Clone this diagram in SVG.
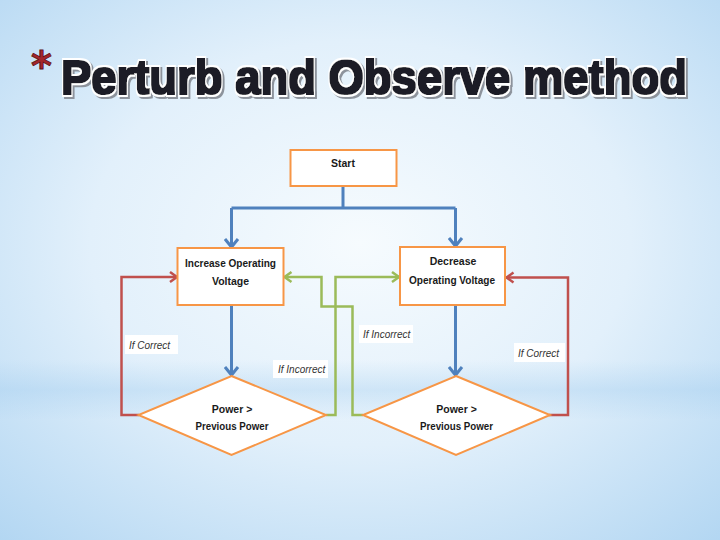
<svg xmlns="http://www.w3.org/2000/svg" width="720" height="540" viewBox="0 0 720 540">
<defs>
<radialGradient id="bg" cx="0.5" cy="0.45" r="0.75">
<stop offset="0" stop-color="#f6fbfe"/>
<stop offset="0.5" stop-color="#e2f0fb"/>
<stop offset="1" stop-color="#b2d6f2"/>
</radialGradient>
<linearGradient id="band" x1="0" y1="0" x2="0" y2="1">
<stop offset="0" stop-color="#9fcbee" stop-opacity="0"/>
<stop offset="0.5" stop-color="#9fcbee" stop-opacity="0.35"/>
<stop offset="1" stop-color="#9fcbee" stop-opacity="0"/>
</linearGradient>
<filter id="heavy" x="-5%" y="-30%" width="110%" height="160%">
<feMorphology in="SourceAlpha" operator="dilate" radius="1.1" result="bold"/>
<feFlood flood-color="#1e1e28" result="f1"/>
<feComposite in="f1" in2="bold" operator="in" result="boldC"/>
<feMorphology in="SourceAlpha" operator="dilate" radius="2.2" result="outline"/>
<feFlood flood-color="#ffffff" result="f2"/>
<feComposite in="f2" in2="outline" operator="in" result="outlineC"/>
<feOffset in="outline" dx="2.2" dy="2" result="sh"/>
<feFlood flood-color="#8d939c" result="f3"/>
<feComposite in="f3" in2="sh" operator="in" result="shC"/>
<feMerge><feMergeNode in="shC"/><feMergeNode in="outlineC"/><feMergeNode in="boldC"/></feMerge>
</filter>
<marker id="aB" markerUnits="userSpaceOnUse" markerWidth="16" markerHeight="16" refX="10" refY="8" orient="auto">
<path d="M2,1.5 L10,8 L2,14.5" fill="none" stroke="#4f81bd" stroke-width="3"/>
</marker>
<marker id="aR" markerUnits="userSpaceOnUse" markerWidth="14" markerHeight="14" refX="9" refY="7" orient="auto">
<path d="M2,2 L9,7 L2,12" fill="none" stroke="#c0504d" stroke-width="2.5"/>
</marker>
<marker id="aG" markerUnits="userSpaceOnUse" markerWidth="14" markerHeight="14" refX="9" refY="7" orient="auto">
<path d="M2,2 L9,7 L2,12" fill="none" stroke="#9bbb59" stroke-width="2.5"/>
</marker>
</defs>
<style>
.box{fill:#fff;stroke:#f79646;stroke-width:2}
.t{font-family:"Liberation Sans",Arial,sans-serif;font-weight:bold;font-size:10.5px;fill:#1a1a1a;text-anchor:middle}
.lbl{font-family:"Liberation Sans",Arial,sans-serif;font-style:italic;font-size:10px;fill:#333}
.lb{fill:#fff}
.blue{fill:none;stroke:#4f81bd;stroke-width:3}
.red{fill:none;stroke:#c0504d;stroke-width:2.5}
.green{fill:none;stroke:#9bbb59;stroke-width:2.5}
.title{font-family:"Liberation Sans",Arial,sans-serif;font-weight:bold;font-size:40px;fill:#1e1e28}
</style>
<rect width="720" height="540" fill="url(#bg)"/>
<rect x="0" y="360" width="720" height="60" fill="url(#band)"/>

<g id="title">
<text x="31" y="80" font-family="DejaVu Sans,sans-serif" font-weight="bold" font-size="40" fill="#a3262a" stroke="#5a1010" stroke-width="0.8">*</text>
<g transform="translate(61,94) scale(1,1.2)">
<text class="title" x="0" y="0" textLength="626" lengthAdjust="spacingAndGlyphs" filter="url(#heavy)">Perturb and Observe method</text>
</g>
</g>

<g id="connectors">
<path class="blue" d="M343,186 V208 M231.5,208 H455.5"/>
<path class="blue" d="M231.5,208 V247" marker-end="url(#aB)"/>
<path class="blue" d="M455.5,208 V246" marker-end="url(#aB)"/>
<path class="blue" d="M231.5,305 V375" marker-end="url(#aB)"/>
<path class="blue" d="M455.5,305 V375" marker-end="url(#aB)"/>
<path class="red" d="M139,415 H121.5 V277 H177" marker-end="url(#aR)"/>
<path class="red" d="M549,415 H568 V277.5 H506.5" marker-end="url(#aR)"/>
<path class="green" d="M326,415 H335.5 V277 H399" marker-end="url(#aG)"/>
<path class="green" d="M363,415 H352.5 V306.5 H321.5 V277 H284.5" marker-end="url(#aG)"/>
</g>

<g id="start">
<rect class="box" x="290.5" y="150" width="106" height="36"/>
<text class="t" x="343" y="167">Start</text>
</g>
<g id="increase">
<rect class="box" x="177.5" y="248" width="106" height="57"/>
<text class="t" x="230.5" y="267" textLength="91" lengthAdjust="spacingAndGlyphs">Increase Operating</text>
<text class="t" x="230.5" y="285">Voltage</text>
</g>
<g id="decrease">
<rect class="box" x="400" y="247" width="105" height="58"/>
<text class="t" x="453" y="265" font-weight="normal">Decrease</text>
<text class="t" x="452" y="284" textLength="86" lengthAdjust="spacingAndGlyphs">Operating Voltage</text>
</g>
<g id="diamond-left">
<polygon class="box" points="231.5,376 326,415 231.5,455 138.5,415"/>
<text class="t" x="232" y="413">Power &gt;</text>
<text class="t" x="232" y="430" textLength="73" lengthAdjust="spacingAndGlyphs">Previous Power</text>
</g>
<g id="diamond-right">
<polygon class="box" points="456,376 550,415 456,455 363,415"/>
<text class="t" x="456.5" y="413">Power &gt;</text>
<text class="t" x="456.5" y="430" textLength="73" lengthAdjust="spacingAndGlyphs">Previous Power</text>
</g>

<g id="labels">
<rect class="lb" x="125" y="335" width="53" height="19"/>
<text class="lbl" x="129" y="349">If Correct</text>
<rect class="lb" x="273" y="360" width="55" height="18"/>
<text class="lbl" x="278" y="373">If Incorrect</text>
<rect class="lb" x="359" y="325" width="54" height="18"/>
<text class="lbl" x="363" y="338">If Incorrect</text>
<rect class="lb" x="514" y="343" width="51" height="19"/>
<text class="lbl" x="518" y="357">If Correct</text>
</g>
</svg>
